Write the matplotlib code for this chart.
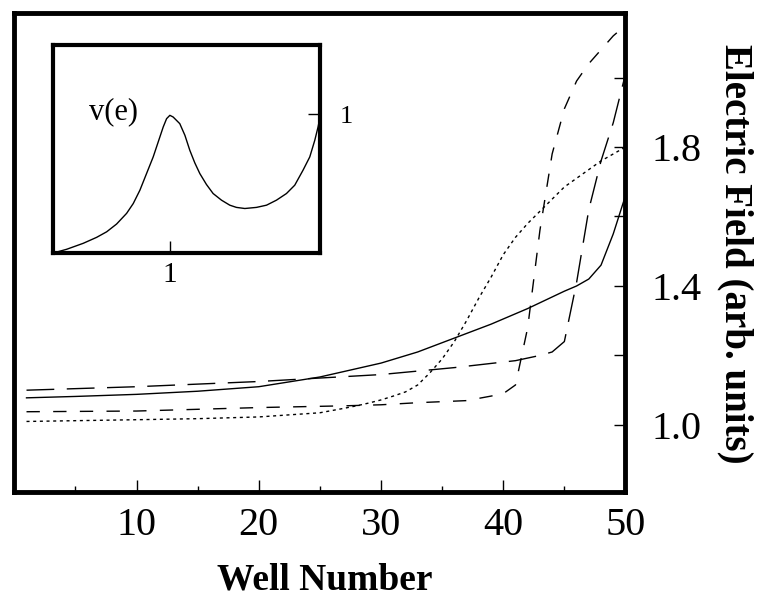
import numpy as np
import matplotlib.pyplot as plt

plt.rcParams['font.family'] = ['Liberation Serif', 'DejaVu Serif']
plt.rcParams['lines.scale_dashes'] = False

# field along the chain of wells, four runs
well_solid = [1, 5, 10, 15, 20, 25, 30, 33, 36, 39, 42, 45, 46, 47, 48, 49, 50]
field_solid = [1.078, 1.082, 1.088, 1.097, 1.110, 1.138, 1.178, 1.210, 1.250, 1.290,
               1.335, 1.385, 1.400, 1.420, 1.460, 1.550, 1.660]

well_long = [1, 10, 20, 25, 30, 36, 41, 43, 44, 45, 46, 47, 48, 49, 50]
field_long = [1.100, 1.110, 1.125, 1.135, 1.145, 1.165, 1.185, 1.200, 1.210, 1.240,
              1.410, 1.620, 1.760, 1.870, 2.010]

well_med = [1, 10, 20, 27, 30, 33, 37, 39, 40, 41, 42, 43, 44, 45, 46, 47, 48, 49, 50]
field_med = [1.038, 1.040, 1.050, 1.055, 1.058, 1.064, 1.070, 1.083, 1.090, 1.115,
             1.280, 1.560, 1.780, 1.910, 1.990, 2.040, 2.080, 2.120, 2.150]

well_dot = [1, 10, 15, 20, 25, 27, 28, 29, 30, 31, 32, 33, 34, 35, 36, 37, 38, 39, 40,
            41, 42, 43, 44, 45, 46, 47, 48, 49, 50]
field_dot = [1.010, 1.015, 1.018, 1.023, 1.035, 1.048, 1.055, 1.063, 1.072, 1.083,
             1.095, 1.115, 1.150, 1.190, 1.240, 1.300, 1.365, 1.425, 1.490, 1.540,
             1.580, 1.615, 1.650, 1.685, 1.710, 1.735, 1.760, 1.780, 1.800]

# inset: drift velocity vs field
e_vals = [0.0, 0.115, 0.257, 0.372, 0.458, 0.543, 0.629, 0.686, 0.743, 0.800, 0.857,
          0.900, 0.943, 0.972, 1.000, 1.028, 1.085, 1.129, 1.171, 1.214, 1.257, 1.314,
          1.371, 1.443, 1.514, 1.571, 1.643, 1.743, 1.829, 1.914, 2.000, 2.071, 2.142,
          2.200, 2.243, 2.271, 2.291]
v_vals = [0.0, 0.027, 0.070, 0.113, 0.153, 0.209, 0.286, 0.357, 0.453, 0.573, 0.693,
          0.801, 0.909, 0.969, 0.993, 0.981, 0.933, 0.849, 0.741, 0.650, 0.573, 0.494,
          0.429, 0.381, 0.345, 0.329, 0.321, 0.329, 0.345, 0.381, 0.429, 0.489, 0.597,
          0.693, 0.813, 0.909, 0.993]

xticks = [10, 20, 30, 40, 50]
yticks = [1.0, 1.4, 1.8]
ytick_labels = ['1.0', '1.4', '1.8']

fig = plt.figure(figsize=(7.6, 5.98), dpi=100)
ax = fig.add_axes([0.0188, 0.1773, 0.8042, 0.8005])

ax.plot(well_solid, field_solid, color='black', lw=1.0)
ax.plot(well_long, field_long, color='black', lw=1.0, dashes=(20, 9))
ax.plot(well_med, field_med, color='black', lw=1.0, dashes=(9.6, 9.6))
ax.plot(well_dot, field_dot, color='black', lw=1.0, dashes=(2.2, 2.6))

ax.set_xlim(0, 50)
ax.set_ylim(0.807, 2.185)
ax.set_xticks(xticks)
ax.set_xticks([5, 15, 25, 35, 45], minor=True)
ax.yaxis.tick_right()
ax.set_yticks(yticks)
ax.set_yticklabels(ytick_labels)
ax.set_yticks([1.2, 1.6, 2.0], minor=True)
ax.tick_params(axis='x', which='major', direction='in', length=8.6, width=1,
               labelsize=29, pad=11)
ax.tick_params(axis='x', which='minor', direction='in', length=4.3, width=1)
ax.tick_params(axis='y', which='both', direction='in', length=8, width=1,
               labelsize=29, pad=18.5)
for s in ax.spines.values():
    s.set_linewidth(3.5)

fig.text(0.4276, 0.015, 'Well Number', fontsize=27, fontweight='bold',
         ha='center', va='baseline')
fig.text(0.967, 0.575, 'Electric Field (arb. units)', fontsize=28, fontweight='bold',
         rotation=-90, ha='center', va='center')

# inset
axin = fig.add_axes([0.0701, 0.5769, 0.3513, 0.3478])
axin.plot(e_vals, v_vals, color='black', lw=1.0)
axin.set_xlim(0, 2.29)
axin.set_ylim(0, 1.5)
axin.set_xticks([1])
axin.set_xticklabels(['1'])
axin.yaxis.tick_right()
axin.set_yticks([1])
axin.set_yticklabels(['1'])
axin.tick_params(axis='x', direction='in', length=9, width=1, labelsize=21, pad=6.5)
axin.tick_params(axis='y', direction='in', length=9, width=1, labelsize=19, pad=14)
for s in axin.spines.values():
    s.set_linewidth(3)
axin.text(0.52, 1.02, 'v(e)', fontsize=22, ha='center', va='center')

fig.savefig('out.png', dpi=100)
